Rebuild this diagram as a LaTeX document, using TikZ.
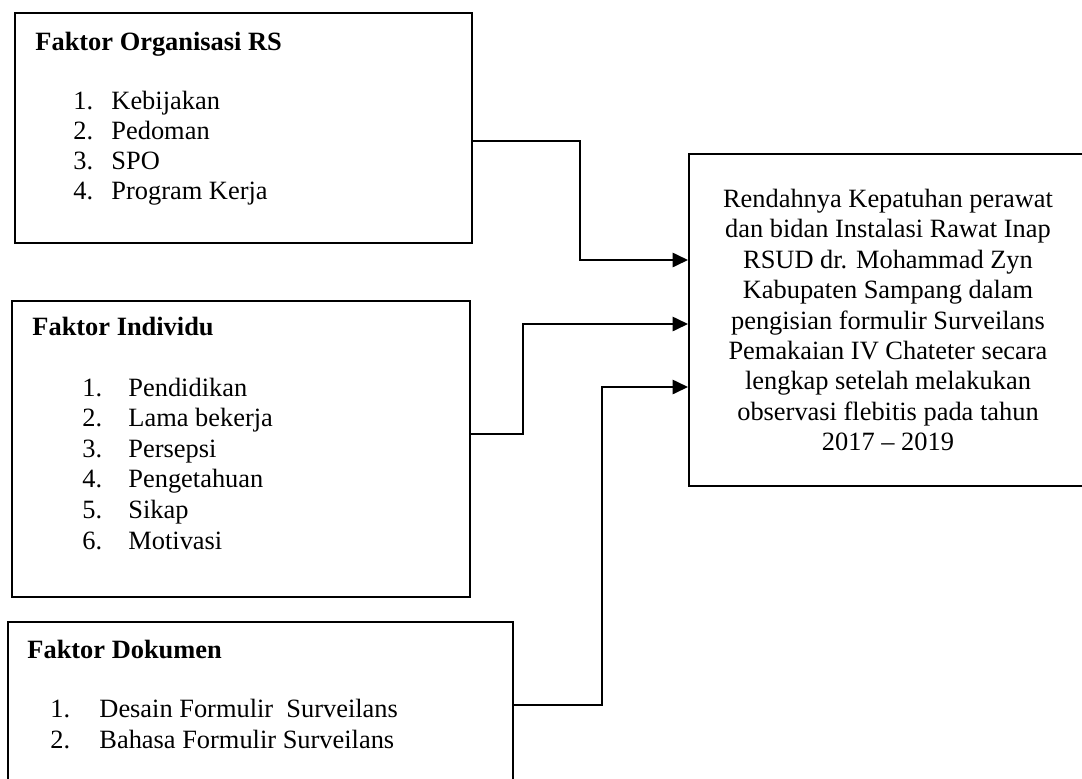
\documentclass[tikz,border=0pt]{standalone}
\usepackage{fontspec}
\setmainfont{Liberation Serif}
\usepackage{tikz}
\usetikzlibrary{arrows.meta, positioning}
\newlength{\pxu}
\setlength{\pxu}{0.4545pt}
\tikzstyle{factorbox} = [rectangle, draw=black, line width=0.9pt, anchor=north west, inner sep=0pt]
\tikzstyle{resultbox} = [rectangle, draw=black, line width=0.9pt, anchor=north west, align=center, font=\fontsize{12}{13.85}\selectfont]
\tikzstyle{titletext} = [anchor=base west, inner sep=0pt, font=\fontsize{12}{14}\selectfont\bfseries]
\tikzstyle{itemtext} = [anchor=base west, inner sep=0pt, font=\fontsize{12}{14}\selectfont]
\tikzstyle{arrow} = [line width=0.9pt, -{Triangle[length=7pt, width=6.5pt]}]

\begin{document}
\begin{tikzpicture}[x=0.4545pt, y=-0.4545pt]

    \useasboundingbox (0,0) rectangle (1082,778);
    \clip (0,0) rectangle (1082,778);

    \node (org) [factorbox, minimum width=457\pxu, minimum height=230\pxu] at (14,12) {};
    \node (ind) [factorbox, minimum width=458\pxu, minimum height=296\pxu] at (11,300) {};
    \node (dok) [factorbox, minimum width=505\pxu, minimum height=180\pxu] at (7,621) {};
    \node (target) [resultbox, minimum width=398\pxu, minimum height=332\pxu] at (688,153)
        {Rendahnya Kepatuhan perawat\\dan bidan Instalasi Rawat Inap\\RSUD dr. Mohammad Zyn\\Kabupaten Sampang dalam\\pengisian formulir Surveilans\\Pemakaian IV Chateter secara\\lengkap setelah melakukan\\observasi flebitis pada tahun\\2017 -- 2019};

    \node (orgtitle) [titletext] at (35,50) {Faktor Organisasi RS};
    \node (indtitle) [titletext] at (32,335) {Faktor Individu};
    \node (doktitle) [titletext] at (27,658) {Faktor Dokumen};

    \foreach \t [count=\i] in {Kebijakan, Pedoman, SPO, Program Kerja} {
        \node (orgnum\i) [itemtext] at (73, {109+30.3*(\i-1)}) {\i.};
        \node (orgitem\i) [itemtext] at (111, {109+30.3*(\i-1)}) {\t};
    }
    \foreach \t [count=\i] in {Pendidikan, Lama bekerja, Persepsi, Pengetahuan, Sikap, Motivasi} {
        \node (indnum\i) [itemtext] at (82, {396+30.6*(\i-1)}) {\i.};
        \node (inditem\i) [itemtext] at (128, {396+30.6*(\i-1)}) {\t};
    }
    \foreach \t [count=\i] in {Desain Formulir\ \ Surveilans, Bahasa Formulir Surveilans} {
        \node (doknum\i) [itemtext] at (50, {717+31*(\i-1)}) {\i.};
        \node (dokitem\i) [itemtext] at (99, {717+31*(\i-1)}) {\t};
    }

    \draw [arrow] (org.east |- 0,141) -| (580,260) -- (target.west |- 0,260);
    \draw [arrow] (ind.east |- 0,434) -| (523,324) -- (target.west |- 0,324);
    \draw [arrow] (dok.east |- 0,705) -| (602,387) -- (target.west |- 0,387);

\end{tikzpicture}
\end{document}
